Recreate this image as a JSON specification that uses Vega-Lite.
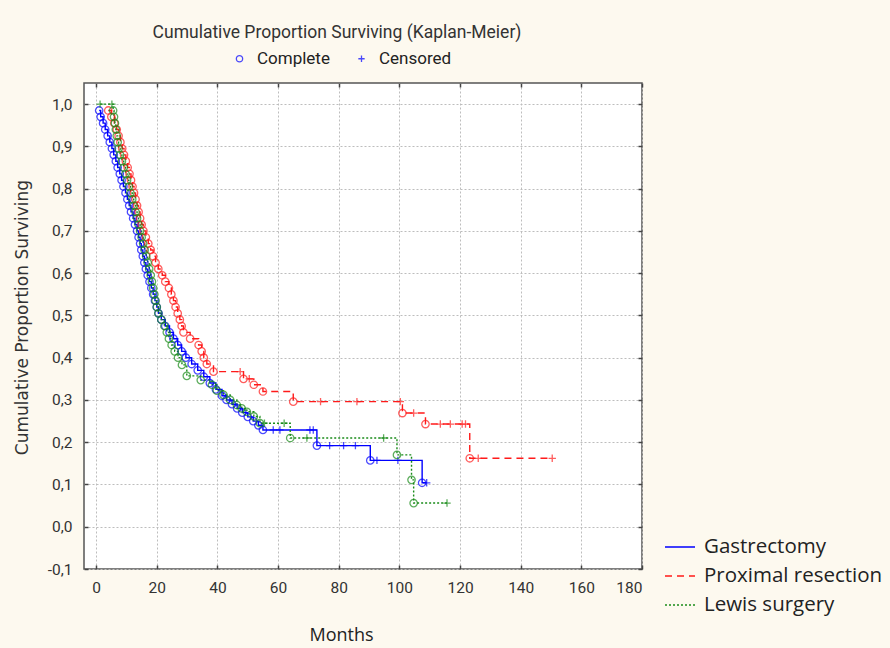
{
  "$schema": "https://vega.github.io/schema/vega-lite/v6.json",
  "width": 558,
  "height": 486,
  "autosize": {"type": "none"},
  "padding": {"left": 84, "top": 83, "right": 248, "bottom": 79},
  "background": "#fdf9ef",
  "title": {
    "text": "Cumulative Proportion Surviving (Kaplan-Meier)",
    "anchor": "middle",
    "dx": -26,
    "dy": 19,
    "offset": 10,
    "baseline": "bottom",
    "font": "Roboto",
    "fontSize": 17.5,
    "fontWeight": "normal",
    "color": "#333333"
  },
  "config": {
    "view": {"stroke": "#555555", "strokeWidth": 1.5, "fill": "white"},
    "axis": {
      "domain": false,
      "grid": true,
      "gridColor": "#bdbdbd",
      "gridDash": [2, 2],
      "gridWidth": 1,
      "tickColor": "#444444",
      "tickWidth": 1.5,
      "tickSize": -4,
      "labelFont": "Roboto",
      "labelFontSize": 15.5,
      "labelColor": "#333333"
    }
  },
  "data": {
    "values": [
      {"group": "Gastrectomy", "month": 1.0, "surv": 0.985, "status": "Complete"},
      {"group": "Gastrectomy", "month": 1.5, "surv": 0.970, "status": "Complete"},
      {"group": "Gastrectomy", "month": 2.3, "surv": 0.955, "status": "Complete"},
      {"group": "Gastrectomy", "month": 3.0, "surv": 0.940, "status": "Complete"},
      {"group": "Gastrectomy", "month": 3.8, "surv": 0.925, "status": "Complete"},
      {"group": "Gastrectomy", "month": 4.5, "surv": 0.910, "status": "Complete"},
      {"group": "Gastrectomy", "month": 5.2, "surv": 0.895, "status": "Complete"},
      {"group": "Gastrectomy", "month": 5.8, "surv": 0.880, "status": "Complete"},
      {"group": "Gastrectomy", "month": 6.5, "surv": 0.865, "status": "Complete"},
      {"group": "Gastrectomy", "month": 7.1, "surv": 0.850, "status": "Complete"},
      {"group": "Gastrectomy", "month": 7.8, "surv": 0.835, "status": "Complete"},
      {"group": "Gastrectomy", "month": 8.4, "surv": 0.820, "status": "Complete"},
      {"group": "Gastrectomy", "month": 9.0, "surv": 0.805, "status": "Complete"},
      {"group": "Gastrectomy", "month": 9.7, "surv": 0.790, "status": "Complete"},
      {"group": "Gastrectomy", "month": 10.3, "surv": 0.775, "status": "Complete"},
      {"group": "Gastrectomy", "month": 10.9, "surv": 0.760, "status": "Complete"},
      {"group": "Gastrectomy", "month": 11.5, "surv": 0.745, "status": "Complete"},
      {"group": "Gastrectomy", "month": 12.2, "surv": 0.730, "status": "Complete"},
      {"group": "Gastrectomy", "month": 12.8, "surv": 0.715, "status": "Complete"},
      {"group": "Gastrectomy", "month": 13.5, "surv": 0.700, "status": "Complete"},
      {"group": "Gastrectomy", "month": 14.0, "surv": 0.685, "status": "Complete"},
      {"group": "Gastrectomy", "month": 14.5, "surv": 0.670, "status": "Complete"},
      {"group": "Gastrectomy", "month": 14.9, "surv": 0.655, "status": "Complete"},
      {"group": "Gastrectomy", "month": 15.4, "surv": 0.640, "status": "Complete"},
      {"group": "Gastrectomy", "month": 15.9, "surv": 0.625, "status": "Complete"},
      {"group": "Gastrectomy", "month": 16.4, "surv": 0.610, "status": "Complete"},
      {"group": "Gastrectomy", "month": 17.0, "surv": 0.595, "status": "Complete"},
      {"group": "Gastrectomy", "month": 17.6, "surv": 0.580, "status": "Complete"},
      {"group": "Gastrectomy", "month": 18.2, "surv": 0.565, "status": "Complete"},
      {"group": "Gastrectomy", "month": 18.8, "surv": 0.550, "status": "Complete"},
      {"group": "Gastrectomy", "month": 19.4, "surv": 0.535, "status": "Complete"},
      {"group": "Gastrectomy", "month": 20.0, "surv": 0.520, "status": "Complete"},
      {"group": "Gastrectomy", "month": 20.6, "surv": 0.505, "status": "Complete"},
      {"group": "Gastrectomy", "month": 21.5, "surv": 0.490, "status": "Complete"},
      {"group": "Gastrectomy", "month": 22.8, "surv": 0.475, "status": "Complete"},
      {"group": "Gastrectomy", "month": 24.2, "surv": 0.460, "status": "Complete"},
      {"group": "Gastrectomy", "month": 25.5, "surv": 0.445, "status": "Complete"},
      {"group": "Gastrectomy", "month": 26.9, "surv": 0.430, "status": "Complete"},
      {"group": "Gastrectomy", "month": 28.2, "surv": 0.415, "status": "Complete"},
      {"group": "Gastrectomy", "month": 29.6, "surv": 0.400, "status": "Complete"},
      {"group": "Gastrectomy", "month": 31.5, "surv": 0.385, "status": "Complete"},
      {"group": "Gastrectomy", "month": 33.5, "surv": 0.370, "status": "Complete"},
      {"group": "Gastrectomy", "month": 35.5, "surv": 0.355, "status": "Complete"},
      {"group": "Gastrectomy", "month": 37.5, "surv": 0.340, "status": "Complete"},
      {"group": "Gastrectomy", "month": 39.5, "surv": 0.325, "status": "Complete"},
      {"group": "Gastrectomy", "month": 41.5, "surv": 0.310, "status": "Complete"},
      {"group": "Gastrectomy", "month": 43.0, "surv": 0.300, "status": "Complete"},
      {"group": "Gastrectomy", "month": 44.8, "surv": 0.290, "status": "Complete"},
      {"group": "Gastrectomy", "month": 46.5, "surv": 0.280, "status": "Complete"},
      {"group": "Gastrectomy", "month": 48.2, "surv": 0.270, "status": "Complete"},
      {"group": "Gastrectomy", "month": 50.0, "surv": 0.260, "status": "Complete"},
      {"group": "Gastrectomy", "month": 51.8, "surv": 0.250, "status": "Complete"},
      {"group": "Gastrectomy", "month": 53.5, "surv": 0.240, "status": "Complete"},
      {"group": "Gastrectomy", "month": 55.0, "surv": 0.229, "status": "Complete"},
      {"group": "Gastrectomy", "month": 58.4, "surv": 0.229, "status": "Censored"},
      {"group": "Gastrectomy", "month": 60.6, "surv": 0.229, "status": "Censored"},
      {"group": "Gastrectomy", "month": 70.5, "surv": 0.229, "status": "Censored"},
      {"group": "Gastrectomy", "month": 71.6, "surv": 0.229, "status": "Censored"},
      {"group": "Gastrectomy", "month": 72.8, "surv": 0.192, "status": "Complete"},
      {"group": "Gastrectomy", "month": 77.0, "surv": 0.192, "status": "Censored"},
      {"group": "Gastrectomy", "month": 81.6, "surv": 0.192, "status": "Censored"},
      {"group": "Gastrectomy", "month": 85.5, "surv": 0.192, "status": "Censored"},
      {"group": "Gastrectomy", "month": 90.4, "surv": 0.157, "status": "Complete"},
      {"group": "Gastrectomy", "month": 92.6, "surv": 0.157, "status": "Censored"},
      {"group": "Gastrectomy", "month": 99.5, "surv": 0.157, "status": "Censored"},
      {"group": "Gastrectomy", "month": 107.5, "surv": 0.104, "status": "Complete"},
      {"group": "Gastrectomy", "month": 109.0, "surv": 0.104, "status": "Censored"},

      {"group": "Proximal resection", "month": 4.0, "surv": 0.985, "status": "Complete"},
      {"group": "Proximal resection", "month": 5.0, "surv": 0.970, "status": "Complete"},
      {"group": "Proximal resection", "month": 6.0, "surv": 0.955, "status": "Complete"},
      {"group": "Proximal resection", "month": 6.8, "surv": 0.940, "status": "Complete"},
      {"group": "Proximal resection", "month": 7.4, "surv": 0.925, "status": "Complete"},
      {"group": "Proximal resection", "month": 8.0, "surv": 0.910, "status": "Complete"},
      {"group": "Proximal resection", "month": 8.6, "surv": 0.895, "status": "Complete"},
      {"group": "Proximal resection", "month": 9.2, "surv": 0.880, "status": "Complete"},
      {"group": "Proximal resection", "month": 9.8, "surv": 0.865, "status": "Complete"},
      {"group": "Proximal resection", "month": 10.4, "surv": 0.850, "status": "Complete"},
      {"group": "Proximal resection", "month": 11.0, "surv": 0.835, "status": "Complete"},
      {"group": "Proximal resection", "month": 11.5, "surv": 0.820, "status": "Complete"},
      {"group": "Proximal resection", "month": 12.0, "surv": 0.805, "status": "Complete"},
      {"group": "Proximal resection", "month": 12.5, "surv": 0.790, "status": "Complete"},
      {"group": "Proximal resection", "month": 13.0, "surv": 0.775, "status": "Complete"},
      {"group": "Proximal resection", "month": 13.5, "surv": 0.760, "status": "Complete"},
      {"group": "Proximal resection", "month": 14.0, "surv": 0.745, "status": "Complete"},
      {"group": "Proximal resection", "month": 14.5, "surv": 0.730, "status": "Complete"},
      {"group": "Proximal resection", "month": 15.0, "surv": 0.715, "status": "Complete"},
      {"group": "Proximal resection", "month": 15.6, "surv": 0.700, "status": "Complete"},
      {"group": "Proximal resection", "month": 16.4, "surv": 0.685, "status": "Complete"},
      {"group": "Proximal resection", "month": 17.2, "surv": 0.670, "status": "Complete"},
      {"group": "Proximal resection", "month": 18.0, "surv": 0.655, "status": "Complete"},
      {"group": "Proximal resection", "month": 18.8, "surv": 0.640, "status": "Complete"},
      {"group": "Proximal resection", "month": 19.6, "surv": 0.625, "status": "Complete"},
      {"group": "Proximal resection", "month": 20.5, "surv": 0.610, "status": "Complete"},
      {"group": "Proximal resection", "month": 21.8, "surv": 0.595, "status": "Complete"},
      {"group": "Proximal resection", "month": 22.8, "surv": 0.580, "status": "Complete"},
      {"group": "Proximal resection", "month": 24.0, "surv": 0.565, "status": "Complete"},
      {"group": "Proximal resection", "month": 24.8, "surv": 0.550, "status": "Complete"},
      {"group": "Proximal resection", "month": 25.5, "surv": 0.535, "status": "Complete"},
      {"group": "Proximal resection", "month": 26.2, "surv": 0.520, "status": "Complete"},
      {"group": "Proximal resection", "month": 26.9, "surv": 0.505, "status": "Complete"},
      {"group": "Proximal resection", "month": 27.6, "surv": 0.490, "status": "Complete"},
      {"group": "Proximal resection", "month": 28.2, "surv": 0.475, "status": "Complete"},
      {"group": "Proximal resection", "month": 28.8, "surv": 0.460, "status": "Complete"},
      {"group": "Proximal resection", "month": 31.0, "surv": 0.445, "status": "Complete"},
      {"group": "Proximal resection", "month": 33.8, "surv": 0.430, "status": "Complete"},
      {"group": "Proximal resection", "month": 34.8, "surv": 0.415, "status": "Complete"},
      {"group": "Proximal resection", "month": 35.5, "surv": 0.400, "status": "Complete"},
      {"group": "Proximal resection", "month": 36.5, "surv": 0.385, "status": "Complete"},
      {"group": "Proximal resection", "month": 38.7, "surv": 0.367, "status": "Complete"},
      {"group": "Proximal resection", "month": 47.5, "surv": 0.367, "status": "Censored"},
      {"group": "Proximal resection", "month": 48.6, "surv": 0.350, "status": "Complete"},
      {"group": "Proximal resection", "month": 50.5, "surv": 0.350, "status": "Censored"},
      {"group": "Proximal resection", "month": 52.0, "surv": 0.336, "status": "Complete"},
      {"group": "Proximal resection", "month": 55.0, "surv": 0.320, "status": "Complete"},
      {"group": "Proximal resection", "month": 65.0, "surv": 0.296, "status": "Complete"},
      {"group": "Proximal resection", "month": 74.0, "surv": 0.296, "status": "Censored"},
      {"group": "Proximal resection", "month": 86.0, "surv": 0.296, "status": "Censored"},
      {"group": "Proximal resection", "month": 100.3, "surv": 0.296, "status": "Censored"},
      {"group": "Proximal resection", "month": 101.0, "surv": 0.269, "status": "Complete"},
      {"group": "Proximal resection", "month": 104.7, "surv": 0.269, "status": "Censored"},
      {"group": "Proximal resection", "month": 108.6, "surv": 0.243, "status": "Complete"},
      {"group": "Proximal resection", "month": 113.5, "surv": 0.243, "status": "Censored"},
      {"group": "Proximal resection", "month": 116.8, "surv": 0.243, "status": "Censored"},
      {"group": "Proximal resection", "month": 120.7, "surv": 0.243, "status": "Censored"},
      {"group": "Proximal resection", "month": 121.8, "surv": 0.243, "status": "Censored"},
      {"group": "Proximal resection", "month": 123.2, "surv": 0.162, "status": "Complete"},
      {"group": "Proximal resection", "month": 126.0, "surv": 0.162, "status": "Censored"},
      {"group": "Proximal resection", "month": 150.4, "surv": 0.162, "status": "Censored"},

      {"group": "Lewis surgery", "month": 1.3, "surv": 1.0, "status": "Censored"},
      {"group": "Lewis surgery", "month": 5.2, "surv": 1.0, "status": "Censored"},
      {"group": "Lewis surgery", "month": 5.6, "surv": 0.985, "status": "Complete"},
      {"group": "Lewis surgery", "month": 5.9, "surv": 0.970, "status": "Complete"},
      {"group": "Lewis surgery", "month": 6.2, "surv": 0.955, "status": "Complete"},
      {"group": "Lewis surgery", "month": 6.5, "surv": 0.940, "status": "Complete"},
      {"group": "Lewis surgery", "month": 6.8, "surv": 0.925, "status": "Complete"},
      {"group": "Lewis surgery", "month": 7.1, "surv": 0.910, "status": "Complete"},
      {"group": "Lewis surgery", "month": 7.4, "surv": 0.895, "status": "Complete"},
      {"group": "Lewis surgery", "month": 7.9, "surv": 0.880, "status": "Complete"},
      {"group": "Lewis surgery", "month": 8.5, "surv": 0.865, "status": "Complete"},
      {"group": "Lewis surgery", "month": 9.1, "surv": 0.850, "status": "Complete"},
      {"group": "Lewis surgery", "month": 9.7, "surv": 0.835, "status": "Complete"},
      {"group": "Lewis surgery", "month": 10.2, "surv": 0.820, "status": "Complete"},
      {"group": "Lewis surgery", "month": 10.8, "surv": 0.805, "status": "Complete"},
      {"group": "Lewis surgery", "month": 11.3, "surv": 0.790, "status": "Complete"},
      {"group": "Lewis surgery", "month": 11.9, "surv": 0.775, "status": "Complete"},
      {"group": "Lewis surgery", "month": 12.4, "surv": 0.760, "status": "Complete"},
      {"group": "Lewis surgery", "month": 13.0, "surv": 0.745, "status": "Complete"},
      {"group": "Lewis surgery", "month": 13.5, "surv": 0.730, "status": "Complete"},
      {"group": "Lewis surgery", "month": 14.0, "surv": 0.715, "status": "Complete"},
      {"group": "Lewis surgery", "month": 14.5, "surv": 0.700, "status": "Complete"},
      {"group": "Lewis surgery", "month": 15.0, "surv": 0.685, "status": "Complete"},
      {"group": "Lewis surgery", "month": 15.5, "surv": 0.670, "status": "Complete"},
      {"group": "Lewis surgery", "month": 16.0, "surv": 0.655, "status": "Complete"},
      {"group": "Lewis surgery", "month": 16.5, "surv": 0.640, "status": "Complete"},
      {"group": "Lewis surgery", "month": 17.0, "surv": 0.625, "status": "Complete"},
      {"group": "Lewis surgery", "month": 17.5, "surv": 0.610, "status": "Complete"},
      {"group": "Lewis surgery", "month": 18.0, "surv": 0.595, "status": "Complete"},
      {"group": "Lewis surgery", "month": 18.4, "surv": 0.580, "status": "Complete"},
      {"group": "Lewis surgery", "month": 18.8, "surv": 0.565, "status": "Complete"},
      {"group": "Lewis surgery", "month": 19.2, "surv": 0.550, "status": "Complete"},
      {"group": "Lewis surgery", "month": 19.6, "surv": 0.535, "status": "Complete"},
      {"group": "Lewis surgery", "month": 20.0, "surv": 0.520, "status": "Complete"},
      {"group": "Lewis surgery", "month": 20.5, "surv": 0.505, "status": "Complete"},
      {"group": "Lewis surgery", "month": 21.5, "surv": 0.490, "status": "Complete"},
      {"group": "Lewis surgery", "month": 22.5, "surv": 0.475, "status": "Complete"},
      {"group": "Lewis surgery", "month": 23.3, "surv": 0.460, "status": "Complete"},
      {"group": "Lewis surgery", "month": 24.0, "surv": 0.445, "status": "Complete"},
      {"group": "Lewis surgery", "month": 24.9, "surv": 0.430, "status": "Complete"},
      {"group": "Lewis surgery", "month": 25.9, "surv": 0.415, "status": "Complete"},
      {"group": "Lewis surgery", "month": 27.0, "surv": 0.400, "status": "Complete"},
      {"group": "Lewis surgery", "month": 28.3, "surv": 0.383, "status": "Complete"},
      {"group": "Lewis surgery", "month": 29.9, "surv": 0.357, "status": "Complete"},
      {"group": "Lewis surgery", "month": 34.5, "surv": 0.347, "status": "Complete"},
      {"group": "Lewis surgery", "month": 38.2, "surv": 0.336, "status": "Complete"},
      {"group": "Lewis surgery", "month": 39.8, "surv": 0.322, "status": "Complete"},
      {"group": "Lewis surgery", "month": 42.0, "surv": 0.312, "status": "Complete"},
      {"group": "Lewis surgery", "month": 44.2, "surv": 0.300, "status": "Complete"},
      {"group": "Lewis surgery", "month": 46.4, "surv": 0.288, "status": "Complete"},
      {"group": "Lewis surgery", "month": 48.0, "surv": 0.280, "status": "Complete"},
      {"group": "Lewis surgery", "month": 49.7, "surv": 0.272, "status": "Complete"},
      {"group": "Lewis surgery", "month": 52.0, "surv": 0.261, "status": "Complete"},
      {"group": "Lewis surgery", "month": 54.0, "surv": 0.245, "status": "Complete"},
      {"group": "Lewis surgery", "month": 55.5, "surv": 0.245, "status": "Censored"},
      {"group": "Lewis surgery", "month": 62.0, "surv": 0.245, "status": "Censored"},
      {"group": "Lewis surgery", "month": 64.0, "surv": 0.210, "status": "Complete"},
      {"group": "Lewis surgery", "month": 69.5, "surv": 0.210, "status": "Censored"},
      {"group": "Lewis surgery", "month": 94.8, "surv": 0.210, "status": "Censored"},
      {"group": "Lewis surgery", "month": 99.2, "surv": 0.170, "status": "Complete"},
      {"group": "Lewis surgery", "month": 104.0, "surv": 0.111, "status": "Complete"},
      {"group": "Lewis surgery", "month": 104.7, "surv": 0.056, "status": "Complete"},
      {"group": "Lewis surgery", "month": 115.7, "surv": 0.056, "status": "Censored"}
    ]
  },
  "layer": [
    {
      "mark": {"type": "line", "interpolate": "step-after", "strokeWidth": 1.4},
      "encoding": {
        "x": {
          "field": "month", "type": "quantitative",
          "scale": {"domain": [-4, 180], "nice": false, "zero": false},
          "axis": {
            "values": [0, 20, 40, 60, 80, 100, 120, 140, 160, 180],
            "labelPadding": 15,
            "title": "Months",
            "titleFont": "Open Sans",
            "titleFontSize": 18,
            "titleFontWeight": "normal",
            "titleColor": "#222222",
            "titleX": 257,
            "titleY": 66,
            "titleBaseline": "middle"
          }
        },
        "y": {
          "field": "surv", "type": "quantitative",
          "scale": {"domain": [-0.1, 1.05], "nice": false, "zero": false},
          "axis": {
            "values": [-0.1, 0, 0.1, 0.2, 0.3, 0.4, 0.5, 0.6, 0.7, 0.8, 0.9, 1],
            "labelExpr": "replace(replace(format(datum.value, '.1f'), '.', ','), '\u2212', '-')",
            "labelPadding": 16,
            "title": "Cumulative Proportion Surviving",
            "titleFont": "DejaVu Sans",
            "titleFontSize": 17,
            "titleFontWeight": "normal",
            "titleColor": "#333333",
            "titleX": -62,
            "titleY": 234,
            "titleAngle": -90,
            "titleAlign": "center",
            "titleBaseline": "middle"
          }
        },
        "color": {
          "field": "group", "type": "nominal",
          "scale": {"domain": ["Gastrectomy", "Proximal resection", "Lewis surgery"], "range": ["#0000ff", "#ff1a1a", "#1a8c1a"]},
          "legend": {
            "title": null, "orient": "none", "legendX": 580, "legendY": 448,
            "symbolType": "stroke", "symbolSize": 900, "symbolStrokeWidth": 1.5,
            "labelFont": "Open Sans", "labelFontSize": 20.5, "labelColor": "#222222", "labelLimit": 400,
            "labelOffset": 8, "rowPadding": 2, "padding": 0
          }
        },
        "strokeDash": {
          "field": "group", "type": "nominal",
          "scale": {"domain": ["Gastrectomy", "Proximal resection", "Lewis surgery"], "range": [[1, 0], [7, 5], [2, 2]]},
          "legend": {
            "title": null, "orient": "none", "legendX": 580, "legendY": 448,
            "symbolType": "stroke", "symbolSize": 900, "symbolStrokeWidth": 1.5,
            "labelFont": "Open Sans", "labelFontSize": 20.5, "labelColor": "#222222", "labelLimit": 400,
            "labelOffset": 8, "rowPadding": 2, "padding": 0
          }
        }
      }
    },
    {
      "mark": {"type": "point", "filled": false, "strokeWidth": 1.3, "size": 55},
      "encoding": {
        "x": {"field": "month", "type": "quantitative", "scale": {"domain": [-4, 180], "nice": false, "zero": false}, "axis": null},
        "y": {"field": "surv", "type": "quantitative", "scale": {"domain": [-0.1, 1.05], "nice": false, "zero": false}, "axis": null},
        "color": {"field": "group", "type": "nominal", "legend": null},
        "shape": {
          "field": "status", "type": "nominal",
          "scale": {"domain": ["Complete", "Censored"], "range": ["circle", "M-1,0H1M0,-1V1"]},
          "legend": {
            "title": null, "orient": "none", "direction": "horizontal",
            "legendX": 147, "legendY": -33,
            "symbolSize": 40, "symbolStrokeColor": "#0000ff", "symbolFillColor": "transparent", "symbolStrokeWidth": 1.3,
            "labelFont": "Roboto", "labelFontSize": 17, "labelColor": "#222222",
            "labelOffset": 9, "columnPadding": 23, "padding": 0
          }
        }
      }
    },
    {
      "mark": {"type": "point", "opacity": 0},
      "encoding": {
        "x": {"field": "month", "type": "quantitative", "scale": {"domain": [-4, 180], "nice": false, "zero": false},
              "axis": {"orient": "top", "labels": false, "grid": false, "title": null, "values": [0, 20, 40, 60, 80, 100, 120, 140, 160, 180]}},
        "y": {"field": "surv", "type": "quantitative", "scale": {"domain": [-0.1, 1.05], "nice": false, "zero": false},
              "axis": {"orient": "right", "labels": false, "grid": false, "title": null, "values": [-0.1, 0, 0.1, 0.2, 0.3, 0.4, 0.5, 0.6, 0.7, 0.8, 0.9, 1]}}
      }
    }
  ],
  "resolve": {"axis": {"x": "independent", "y": "independent"}}
}
